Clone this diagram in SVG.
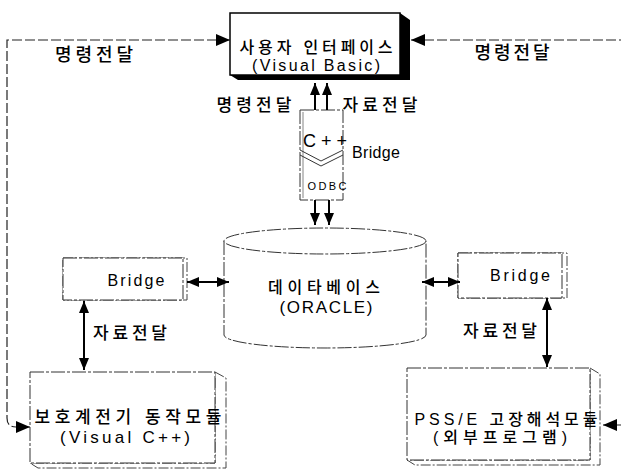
<svg xmlns="http://www.w3.org/2000/svg" width="621" height="469" viewBox="0 0 621 469">
<style>
.ko{font-family:"Liberation Sans","Noto Sans CJK KR",sans-serif;fill:#000;font-weight:500}
.la{font-family:"Liberation Sans",Arial,sans-serif;fill:#000}
.box{fill:#fff;stroke:#333;stroke-width:1;stroke-dasharray:14 2 3 2}
.side{fill:#fff;stroke:#444;stroke-width:1;stroke-dasharray:10 2 2 2}
.loop{fill:none;stroke:#222;stroke-width:1.2;stroke-dasharray:10 3}
.arr{fill:none;stroke:#000;stroke-width:2}
</style>
<defs>
<marker id="ah" viewBox="0 0 14 12" refX="14" refY="6" markerWidth="14" markerHeight="12" orient="auto-start-reverse" markerUnits="userSpaceOnUse"><path d="M0,0 L14,6 L0,12 z" fill="#000"/></marker>
<marker id="as" viewBox="0 0 12 10" refX="12" refY="5" markerWidth="12" markerHeight="10" orient="auto-start-reverse" markerUnits="userSpaceOnUse"><path d="M0,0 L12,5 L0,10 z" fill="#000"/></marker>
</defs>

<g id="ui">
<polygon points="400,13 410,20 410,80 238,80 230,75 400,75" fill="#000"/>
<rect x="230" y="13" width="170" height="62" fill="#fff" stroke="#000" stroke-width="1.5"/>
<text class="ko" x="316" y="52.5" font-size="16" text-anchor="middle" textLength="153" lengthAdjust="spacing">사용자 인터페이스</text>
<text class="la" x="316" y="71" font-size="16" text-anchor="middle" textLength="128" lengthAdjust="spacing">(Visual Basic)</text>
</g>

<g id="cppbridge">
<rect x="300" y="110" width="43" height="90" class="box"/>
<line x1="303" y1="112" x2="303" y2="198" stroke="#666" stroke-width="0.8"/>
<polyline points="300,150 321,161 343,150" fill="none" stroke="#333" stroke-width="1"/>
<polyline points="300,155 321,166 343,155" fill="none" stroke="#333" stroke-width="1"/>
<text class="la" x="325" y="147" font-size="18" text-anchor="middle" textLength="44" lengthAdjust="spacing">C++</text>
<text class="la" x="352" y="158" font-size="16" textLength="48" lengthAdjust="spacing">Bridge</text>
<text class="la" x="327" y="190" font-size="11" text-anchor="middle" textLength="39" lengthAdjust="spacing">ODBC</text>
</g>

<g id="db">
<path d="M224,241 L224,335 A101,13 0 0 0 426,335 L426,241" class="box"/>
<ellipse cx="325" cy="241" rx="101" ry="13" class="box"/>
<text class="ko" x="324" y="293" font-size="16" text-anchor="middle" textLength="112" lengthAdjust="spacing">데이타베이스</text>
<text class="la" x="326" y="313" font-size="17" text-anchor="middle" textLength="93" lengthAdjust="spacing">(ORACLE)</text>
</g>

<g id="leftbridge">
<rect x="63" y="258" width="124" height="42" class="side"/>
<rect x="63" y="258" width="120" height="42" class="box"/>
<text class="la" x="136" y="286" font-size="16" text-anchor="middle" textLength="57" lengthAdjust="spacing">Bridge</text>
</g>

<g id="rightbridge">
<rect x="458" y="253" width="109" height="45" class="side"/>
<rect x="458" y="253" width="104" height="45" class="box"/>
<text class="la" x="520" y="281" font-size="16" text-anchor="middle" textLength="60" lengthAdjust="spacing">Bridge</text>
</g>

<g id="relay">
<polygon points="215,372 226,378 226,468 38,468 30,463 215,463" class="side"/>
<rect x="30" y="372" width="185" height="91" class="box"/>
<text class="ko" x="128" y="423" font-size="17" text-anchor="middle" textLength="187" lengthAdjust="spacing">보호계전기 동작모듈</text>
<text class="la" x="125" y="443" font-size="17" text-anchor="middle" textLength="130" lengthAdjust="spacing">(Visual C++)</text>
</g>

<g id="pss">
<polygon points="590,368 600,374 600,465 415,465 407,460 590,460" class="side"/>
<rect x="407" y="368" width="183" height="92" class="box"/>
<text class="ko" x="506" y="424.5" font-size="16" text-anchor="middle" textLength="183" lengthAdjust="spacing">PSS/E 고장해석모듈</text>
<text class="ko" x="500" y="443" font-size="16" text-anchor="middle" textLength="134" lengthAdjust="spacing">(외부프로그램)</text>
</g>

<g id="connectors">
<path d="M230,40 L7,40 L7,418 Q7,427 16,427 L30,427" class="loop" marker-start="url(#ah)" marker-end="url(#ah)"/>
<path d="M411,40 L621,40" class="loop" marker-start="url(#ah)"/>
<path d="M603,425 L621,425" class="loop" marker-start="url(#ah)"/>
<path d="M315,110 L315,83" class="arr" marker-end="url(#as)"/>
<path d="M327,110 L327,83" class="arr" marker-end="url(#as)"/>
<path d="M315,200 L315,225" class="arr" marker-end="url(#as)"/>
<path d="M329,200 L329,225" class="arr" marker-end="url(#as)"/>
<path d="M187,282 L229,282" class="arr" marker-start="url(#as)" marker-end="url(#as)"/>
<path d="M422,282 L460,282" class="arr" marker-start="url(#as)" marker-end="url(#as)"/>
<path d="M84,301 L84,370" class="arr" marker-start="url(#as)" marker-end="url(#as)"/>
<path d="M547,298 L547,367" class="arr" marker-start="url(#as)" marker-end="url(#as)"/>
<text class="ko" x="94" y="61" font-size="18" text-anchor="middle" textLength="78" lengthAdjust="spacing">명령전달</text>
<text class="ko" x="512" y="59" font-size="18" text-anchor="middle" textLength="75" lengthAdjust="spacing">명령전달</text>
<text class="ko" x="254" y="111" font-size="17" text-anchor="middle" textLength="75" lengthAdjust="spacing">명령전달</text>
<text class="ko" x="380" y="111" font-size="17" text-anchor="middle" textLength="75" lengthAdjust="spacing">자료전달</text>
<text class="ko" x="130" y="339" font-size="17" text-anchor="middle" textLength="74" lengthAdjust="spacing">자료전달</text>
<text class="ko" x="500" y="337" font-size="17" text-anchor="middle" textLength="74" lengthAdjust="spacing">자료전달</text>
</g>
</svg>
